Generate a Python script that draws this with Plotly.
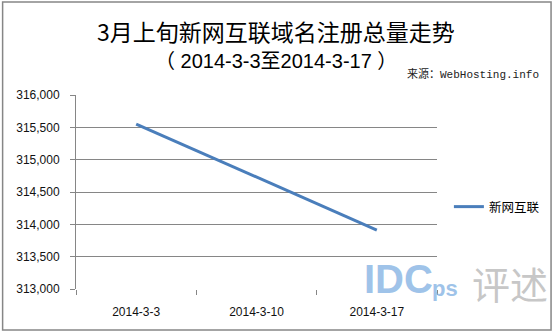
import plotly.graph_objects as go

categories = ["2014-3-3", "2014-3-10", "2014-3-17"]
values = [315551, 314730, 313912]
series_name = "新网互联"
title_text = "3月上旬新网互联域名注册总量走势"
subtitle_text = "（ 2014-3-3至2014-3-17 ）"
source_text = "来源：WebHosting.info"
y_min, y_max, y_step = 313000, 316000, 500

W, H = 557, 333
L, R, T, B = 76, 117, 95, 44
PW, PH = W - L - R, H - T - B

def px(x):
    return (x - L) / PW

def py(y):
    return (H - B - y) / PH

fig = go.Figure()
fig.add_trace(go.Scatter(
    x=categories, y=values, mode="lines", name=series_name,
    line=dict(color="#4a7ebb", width=3),
))

fig.update_layout(
    width=W, height=H,
    margin=dict(l=L, r=R, t=T, b=B),
    paper_bgcolor="white", plot_bgcolor="white",
    showlegend=True,
    legend=dict(x=px(452), y=py(207), xanchor="left", yanchor="middle",
                font=dict(family="Noto Sans CJK SC", size=12.5, color="#000"),
                bgcolor="rgba(0,0,0,0)"),
    font=dict(family="Liberation Sans, Arial", size=12, color="#000"),
)
fig.update_xaxes(
    type="category", range=[-0.5, len(categories) - 0.5],
    showgrid=False, showline=False,
    ticks="outside", tickson="boundaries", ticklen=5, tickcolor="#868686",
    tickfont=dict(family="Liberation Sans", size=12, color="#111"),
    ticklabelstandoff=14, zeroline=False,
)
fig.update_yaxes(
    range=[y_min, y_max], dtick=y_step, tickformat=",",
    showgrid=True, gridcolor="#868686", gridwidth=1,
    showline=True, linecolor="#868686", linewidth=1,
    ticks="outside", ticklen=5, tickcolor="#868686",
    tickfont=dict(family="Liberation Sans", size=12, color="#111"),
    ticklabelstandoff=8, zeroline=False,
)

ann = []
ann.append(dict(text=title_text, x=px(278), y=py(31), xref="paper", yref="paper",
                showarrow=False, xanchor="center", yanchor="middle",
                font=dict(family="Noto Sans CJK SC", size=23, color="#000")))
ann.append(dict(text=subtitle_text, x=px(278), y=py(61), xref="paper", yref="paper",
                showarrow=False, xanchor="center", yanchor="middle",
                font=dict(family="Liberation Sans, Noto Sans CJK SC", size=20, color="#000")))
ann.append(dict(text=source_text, x=px(545), y=py(74), xref="paper", yref="paper",
                showarrow=False, xanchor="right", yanchor="middle",
                font=dict(family="Liberation Mono, Noto Sans CJK SC", size=11, color="#222")))
# watermark
ann.append(dict(text="<b>IDC</b>", x=px(365), y=py(279), xref="paper", yref="paper",
                showarrow=False, xanchor="left", yanchor="middle", opacity=0.75,
                borderpad=0,
                font=dict(family="Liberation Sans", size=40, color="#80b0e2")))
ann.append(dict(text="<b>ps</b>", x=px(434), y=py(288), xref="paper", yref="paper",
                showarrow=False, xanchor="left", yanchor="middle", opacity=0.75,
                borderpad=0,
                font=dict(family="Liberation Sans", size=22, color="#80b0e2")))
ann.append(dict(text="评述", x=px(474), y=py(282), xref="paper", yref="paper",
                showarrow=False, xanchor="left", yanchor="middle", opacity=0.55,
                borderpad=0,
                font=dict(family="Noto Sans CJK SC", size=38, color="#9a9a9a")))
fig.update_layout(annotations=ann)

fig.add_shape(type="rect", xref="paper", yref="paper",
              x0=px(2), x1=px(555), y0=py(330), y1=py(2),
              line=dict(color="#868686", width=1.5), layer="below")

fig.write_html("out.html")
